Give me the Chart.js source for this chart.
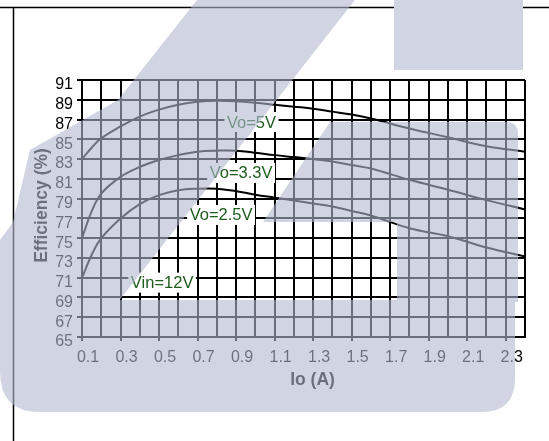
<!DOCTYPE html>
<html lang="en">
<head>
    <meta charset="UTF-8" />
    <title>Efficiency vs Io</title>
    <script src="https://cdn.jsdelivr.net/npm/chart.js"></script>
    <style>
        body {
            margin: 0;
            padding: 0;
            background: #fff;
        }
        .wrap {
            width: 549px;
            height: 441px;
        }
    </style>
</head>
<body>
    <div class="wrap">
        <canvas id="effChart" width="549" height="441"></canvas>
    </div>

    <script>
        // values
        const currentA = [0.1, 0.15, 0.2, 0.3, 0.4, 0.5, 0.6, 0.7, 0.8, 0.9, 1.0, 1.1, 1.2, 1.3, 1.4, 1.5, 1.6, 1.8, 2.0, 2.2, 2.4];
        const eff5V  = [83.0, 84.15, 85.1, 86.3, 87.3, 88.0, 88.5, 88.8, 88.9, 88.85, 88.7, 88.5, 88.3, 88.1, 87.8, 87.5, 87.1, 86.1, 85.2, 84.3, 83.75];
        const eff33V = [75.0, 77.7, 79.5, 81.2, 82.2, 82.9, 83.4, 83.75, 83.85, 83.85, 83.65, 83.4, 83.2, 83.0, 82.75, 82.4, 82.05, 80.9, 79.9, 78.85, 77.9];
        const eff25V = [71.0, 73.3, 75.0, 77.0, 78.45, 79.35, 79.85, 80.0, 80.0, 79.75, 79.4, 79.1, 78.8, 78.5, 78.2, 77.75, 77.3, 76.0, 75.2, 74.05, 73.15];

        const xTickLabels = ['0.1', '0.3', '0.5', '0.7', '0.9', '1.1', '1.3', '1.5', '1.7', '1.9', '2.1', '2.3'];
        const yTickLabels = [65, 67, 69, 71, 73, 75, 77, 79, 81, 83, 85, 87, 89, 91];

        const noteTexts = ['Vo=5V', 'Vo=3.3V', 'Vo=2.5V', 'Vin=12V'];
        const noteAnchors = [[0.98, 86.75], [0.926, 81.6], [0.822, 77.35], [0.516, 70.5]];

        // grid every 0.1 A
        const gridX = [];
        for (let i = 0; i <= 23; i++) gridX.push(+(0.1 + i * 0.1).toFixed(1));

        const FONT = '"Liberation Sans", Arial, sans-serif';
        Chart.defaults.font.family = FONT;

        const toPoints = (ys) => ys.map((v, i) => ({ x: currentA[i], y: v }));

        const isLabelled = (v) => xTickLabels.includes(Number(v).toFixed(1));

        const extras = {
            id: 'extras',
            afterDatasetsDraw(chart) {
                const { ctx, chartArea: a } = chart;
                const x = chart.scales.x, y = chart.scales.y;
                ctx.save();
                // curve notes on white boxes
                ctx.font = '16.5px ' + FONT;
                ctx.textAlign = 'center';
                ctx.textBaseline = 'middle';
                noteTexts.forEach((t, i) => {
                    const px = x.getPixelForValue(noteAnchors[i][0]);
                    const py = y.getPixelForValue(noteAnchors[i][1]);
                    const w = ctx.measureText(t).width + 5;
                    ctx.fillStyle = '#fff';
                    ctx.fillRect(px - w / 2, py - 10, w, 20);
                    ctx.fillStyle = '#1d5c1d';
                    ctx.fillText(t, px, py + 1);
                });
                // axis titles
                ctx.fillStyle = '#000';
                ctx.font = 'bold 17.5px ' + FONT;
                ctx.fillText('Io (A)', (a.left + a.right) / 2 + 9, a.bottom + 43);
                ctx.translate(42, (a.top + a.bottom) / 2 - 3);
                ctx.rotate(-Math.PI / 2);
                ctx.fillText('Efficiency (%)', 0, 0);
                ctx.restore();
            },
            afterDraw(chart) {
                const ctx = chart.ctx;
                ctx.save();
                // page frame
                ctx.strokeStyle = '#000';
                ctx.lineWidth = 1.5;
                ctx.beginPath();
                ctx.moveTo(0, 7.5); ctx.lineTo(394, 7.5);
                ctx.moveTo(523, 7.5); ctx.lineTo(549, 7.5);
                ctx.moveTo(13.5, 7.5); ctx.lineTo(13.5, 441);
                ctx.stroke();

                // watermark over the scan
                ctx.beginPath();
                ctx.moveTo(197, 0); ctx.lineTo(355, 0); ctx.lineTo(118, 302); ctx.lineTo(0, 302);
                ctx.lineTo(0, 240); ctx.lineTo(13, 222); ctx.lineTo(30, 150); ctx.lineTo(118, 100);
                ctx.closePath();
                ctx.moveTo(0, 300); ctx.lineTo(515, 300); ctx.lineTo(515, 378);
                ctx.quadraticCurveTo(515, 412, 482, 412); ctx.lineTo(40, 412);
                ctx.quadraticCurveTo(0, 412, 0, 372);
                ctx.closePath();
                ctx.moveTo(330, 122); ctx.lineTo(506, 122); ctx.quadraticCurveTo(518, 122, 518, 134);
                ctx.lineTo(518, 302); ctx.lineTo(397, 302); ctx.lineTo(397, 222); ctx.lineTo(263, 222);
                ctx.closePath();
                ctx.rect(394, 0, 129, 70);
                ctx.fillStyle = 'rgba(178, 183, 208, 0.6)';
                ctx.fill();
                ctx.restore();
            }
        };

        const line = (data) => ({
            data: toPoints(data),
            borderColor: '#000',
            borderWidth: 2,
            pointRadius: 0,
            fill: false,
            tension: 0.4
        });

        new Chart(document.getElementById('effChart'), {
            type: 'line',
            data: {
                datasets: [line(eff5V), line(eff33V), line(eff25V)]
            },
            options: {
                responsive: false,
                animation: false,
                layout: { padding: { top: 80, right: 24, bottom: 0, left: 0 } },
                plugins: {
                    legend: { display: false },
                    tooltip: { enabled: false }
                },
                scales: {
                    x: {
                        type: 'linear',
                        min: 0.1,
                        max: 2.4,
                        afterBuildTicks: (scale) => { scale.ticks = gridX.map(v => ({ value: v })); },
                        afterFit: (scale) => { scale.height = 104; },
                        grid: {
                            color: '#000',
                            lineWidth: 2,
                            tickLength: 4,
                            tickColor: (c) => (c.tick && isLabelled(c.tick.value)) ? '#000' : 'rgba(0,0,0,0)'
                        },
                        border: { color: '#000', width: 2 },
                        ticks: {
                            autoSkip: false,
                            maxRotation: 0,
                            padding: 7,
                            labelOffset: 6,
                            color: '#000',
                            font: { size: 16 },
                            callback: (v) => isLabelled(v) ? Number(v).toFixed(1) : ''
                        }
                    },
                    y: {
                        type: 'linear',
                        min: 65,
                        max: 91,
                        afterBuildTicks: (scale) => { scale.ticks = yTickLabels.map(v => ({ value: v })); },
                        afterFit: (scale) => { scale.width = 82; },
                        grid: { color: '#000', lineWidth: 2, tickLength: 5 },
                        border: { color: '#000', width: 2 },
                        ticks: {
                            autoSkip: false,
                            padding: 4,
                            labelOffset: 5,
                            color: '#000',
                            font: { size: 16 }
                        }
                    }
                }
            },
            plugins: [extras]
        });
    </script>
</body>
</html>
